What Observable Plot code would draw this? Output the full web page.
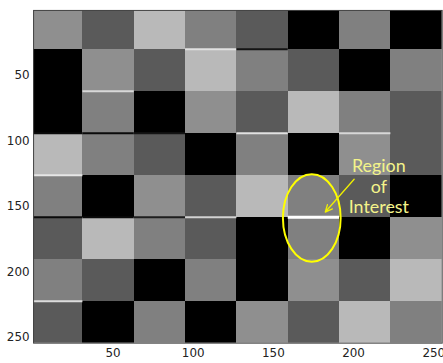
<!DOCTYPE html>
<html><head><meta charset="utf-8">
<script src="https://cdn.jsdelivr.net/npm/d3@7"></script>
<script src="https://cdn.jsdelivr.net/npm/@observablehq/plot@0.6"></script>
<style>
body{margin:0;overflow:hidden;background:#fff}
g[aria-label$="tick label"], g[aria-label$="tick label"] text {font-size:12px !important;font-family:"DejaVu Sans",sans-serif !important;}
</style>
</head><body><div id="chart"></div>
<script>
// 256x256 image made of 8x8 blocks of 32 pixels
const blockSize = 32;
const rowIndex = [1, 2, 3, 4, 5, 6, 7, 8];
const colIndex = [1, 2, 3, 4, 5, 6, 7, 8];
const intensity = [
  [143,  90, 185, 128,  90,   0, 128,   0],
  [  0, 143,  90, 185, 128,  90,   0, 128],
  [  0, 128,   0, 143,  90, 185, 128,  90],
  [185, 128,  90,   0, 128,   0, 143,  90],
  [128,   0, 143,  90, 185, 128,  90,   0],
  [ 90, 185, 128,  90,   0, 128,   0, 143],
  [128,  90,   0, 128,   0, 143,  90, 185],
  [ 90,   0, 128,   0, 143,  90, 185, 128]
];
const xTicks = [50, 100, 150, 200, 250];
const yTicks = [50, 100, 150, 200, 250];

// block-boundary artefacts: column, row above the boundary, intensity
const edgeCol  = [4, 5, 2, 1, 2, 3, 5, 7, 1, 1, 2, 3, 4, 1];
const edgeRow  = [1, 1, 2, 3, 3, 3, 3, 3, 4, 5, 5, 5, 5, 7];
const edgeTone = [225, 20, 215, 10, 10, 20, 225, 215, 230, 10, 10, 30, 210, 220];

// region of interest
const roiCol = 6, roiRow = 5, roiTone = 255;
const roiCenter = [175.5, 161.5];
const roiRadius = [18, 33.3];
const arrowFrom = [201.6, 131.6];
const arrowTo = [183.6, 156.6];
const labelPos = [217, 137];
const labelText = "Region\nof\nInterest";

const gray = v => `rgb(${v},${v},${v})`;
const cells = rowIndex.flatMap((r, i) => colIndex.map((c, j) => ({r, c, v: intensity[i][j]})));
const edges = edgeCol.map((c, i) => ({c, r: edgeRow[i], v: edgeTone[i]}));
const roiEdge = [{c: roiCol, r: roiRow, v: roiTone}];
const x1 = d => (d.c - 1) * blockSize + 0.5;
const x2 = d => d.c * blockSize + 0.5;

const chart = Plot.plot({
  width: 446, height: 363,
  marginLeft: 33.3, marginRight: 1.3, marginTop: 10, marginBottom: 18,
  style: {fontFamily: "DejaVu Sans", fontSize: "12px", background: "#fff", overflow: "visible"},
  x: {domain: [1.74, 256.5]},
  y: {domain: [3, 256.5], reverse: true},
  marks: [
    Plot.rect(cells, {
      x1, x2,
      y1: d => (d.r - 1) * blockSize + 0.5,
      y2: d => d.r * blockSize + 0.5,
      fill: d => gray(d.v), clip: true, shapeRendering: "crispEdges"
    }),
    Plot.ruleY(edges, {x1, x2, y: d => d.r * blockSize + 0.5, stroke: d => gray(d.v), strokeWidth: 2, clip: true}),
    Plot.ruleY(roiEdge, {x1, x2, y: d => d.r * blockSize + 0.5, stroke: d => gray(d.v), strokeWidth: 3}),
    (index, scales) => {
      const sx = scales.x, sy = scales.y;
      return d3.create("svg:ellipse")
        .attr("cx", sx(roiCenter[0])).attr("cy", sy(roiCenter[1]))
        .attr("rx", Math.abs(sx(roiCenter[0] + roiRadius[0]) - sx(roiCenter[0])))
        .attr("ry", Math.abs(sy(roiCenter[1] + roiRadius[1]) - sy(roiCenter[1])))
        .attr("fill", "none").attr("stroke", "#ffff00").attr("stroke-width", 2)
        .node();
    },
    Plot.arrow([0], {
      x1: () => arrowFrom[0], y1: () => arrowFrom[1],
      x2: () => arrowTo[0], y2: () => arrowTo[1],
      stroke: "#f0f000", strokeWidth: 1.3, headLength: 9, headAngle: 50
    }),
    Plot.text([labelText], {
      x: () => labelPos[0], y: () => labelPos[1], text: d => d,
      fill: "#f4f48a", fontFamily: "Lato", fontSize: 18, lineHeight: 1.15, lineAnchor: "middle"
    }),
    Plot.axisX(xTicks, {tickSize: 0, tickPadding: 5, dx: 2, fill: "#222"}),
    Plot.axisY(yTicks, {tickSize: 0, tickPadding: 4, dy: 3, fill: "#222"}),
    Plot.frame({stroke: "#444"})
  ]
});
document.getElementById("chart").appendChild(chart);
</script>
</body></html>
